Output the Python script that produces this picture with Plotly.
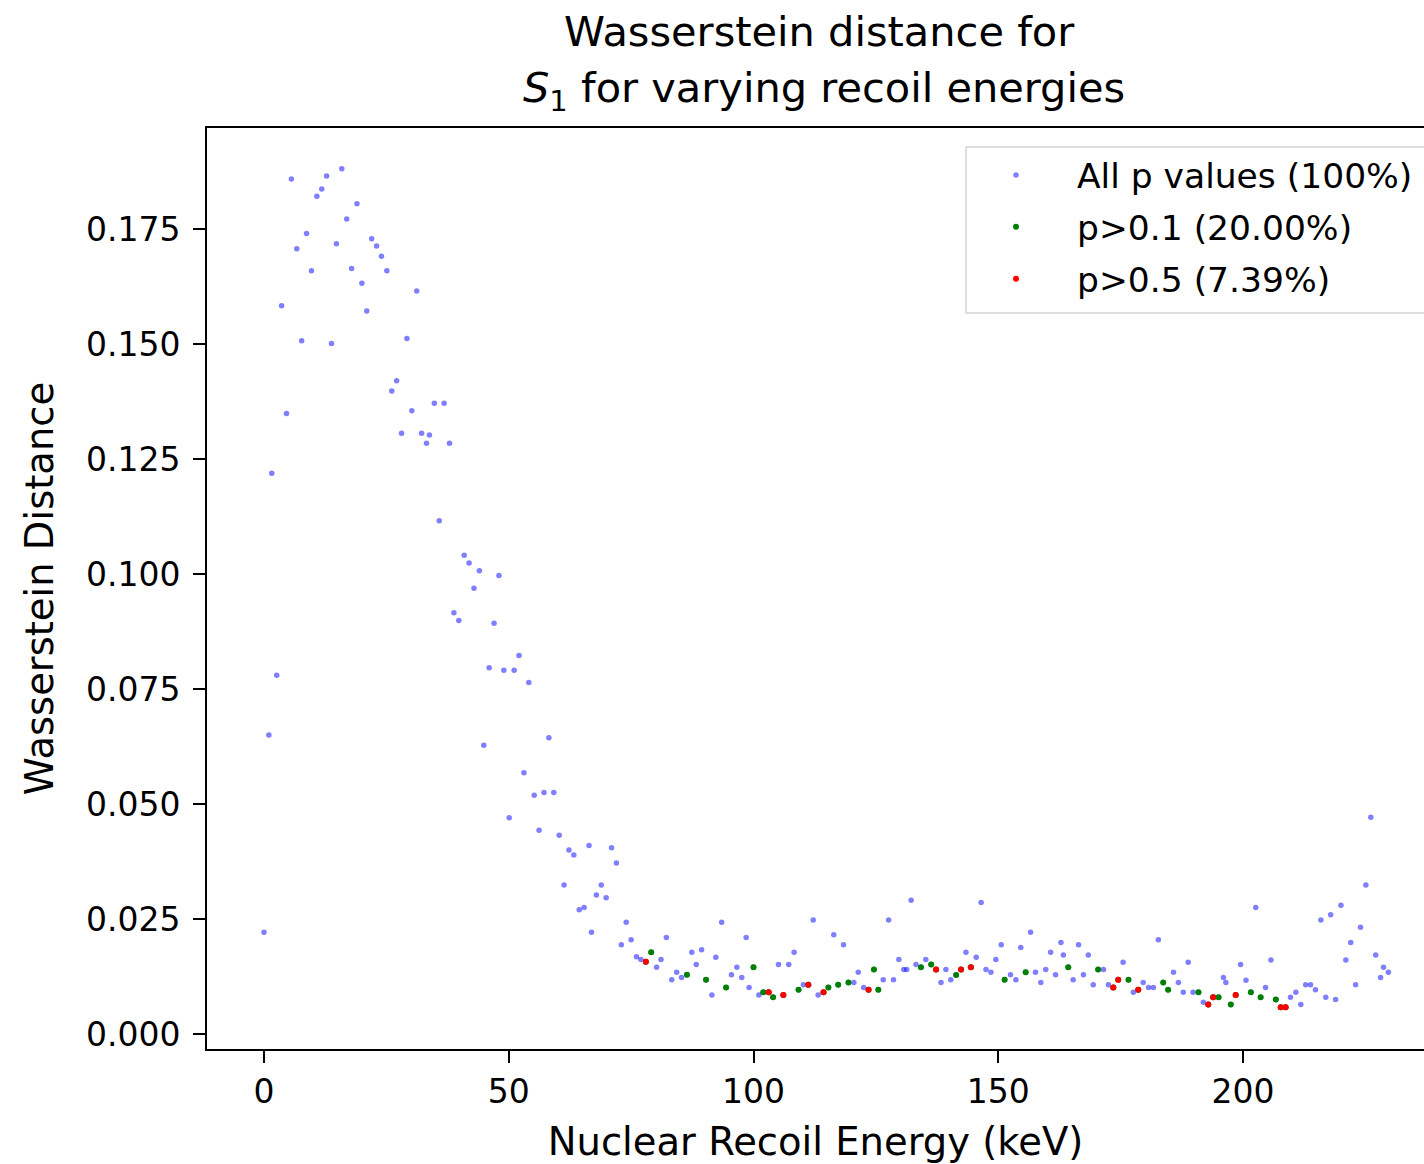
import plotly.graph_objects as go

# Nuclear recoil energy (keV) for every sample
energy = [
    0.0, 1.0, 1.6, 2.6, 3.6, 4.6, 5.6, 6.7, 7.7, 8.7, 9.7, 10.8, 11.8, 12.8, 13.8, 14.8,
    15.9, 16.9, 17.9, 19.0, 20.0, 21.0, 22.0, 23.0, 24.0, 25.1, 26.1, 27.1, 28.1, 29.2,
    30.2, 31.2, 32.2, 33.2, 33.8, 34.8, 35.8, 36.8, 37.9, 38.8, 39.8, 40.9, 41.9, 42.9,
    44.0, 44.9, 46.0, 47.0, 48.0, 49.0, 50.1, 51.1, 52.1, 53.1, 54.1, 55.2, 56.2, 57.2,
    58.2, 59.2, 60.3, 61.3, 62.3, 63.3, 64.4, 65.4, 66.4, 66.9, 67.9, 68.9, 69.9, 71.0,
    72.0, 73.0, 74.0, 75.0, 76.1, 77.0, 78.0, 79.1, 80.2, 81.1, 82.2, 83.3, 84.3, 85.3,
    86.4, 87.4, 88.3, 89.4, 90.3, 91.5, 92.3, 93.5, 94.4, 95.5, 96.6, 97.6, 98.5, 99.1,
    100.0, 101.1, 102.0, 103.1, 104.0, 105.1, 106.1, 107.2, 108.3, 109.2, 110.2, 111.2,
    112.2, 113.2, 114.3, 115.3, 116.4, 117.3, 118.4, 119.4, 120.5, 121.4, 122.5, 123.5,
    124.6, 125.5, 126.5, 127.6, 128.6, 129.7, 130.7, 131.3, 132.2, 133.2, 134.2, 135.2,
    136.3, 137.3, 138.3, 139.3, 140.3, 141.4, 142.4, 143.4, 144.4, 145.5, 146.5, 147.5,
    148.5, 149.5, 150.6, 151.3, 152.5, 153.6, 154.6, 155.6, 156.6, 157.6, 158.7, 159.7,
    160.7, 161.7, 162.8, 163.3, 164.3, 165.3, 166.4, 167.4, 168.4, 169.4, 170.4, 171.5,
    172.5, 173.5, 174.5, 175.5, 176.6, 177.6, 178.6, 179.6, 180.7, 181.7, 182.7, 183.7,
    184.7, 185.8, 186.8, 187.8, 188.8, 189.8, 190.9, 191.9, 192.9, 193.9, 195.0, 196.0,
    196.5, 197.5, 198.5, 199.5, 200.6, 201.6, 202.6, 203.6, 204.6, 205.7, 206.7, 207.7,
    208.7, 209.7, 210.8, 211.8, 212.8, 213.8, 214.8, 215.9, 216.9, 217.9, 218.9, 220.0,
    221.0, 222.0, 223.0, 224.0, 225.1, 226.1, 227.1, 228.1, 228.7, 229.7,
]

# Wasserstein distance for each sample
wasserstein = [
    0.0221, 0.0650, 0.1219, 0.0780, 0.1583, 0.1349, 0.1859, 0.1707, 0.1507, 0.1740, 0.1659,
    0.1821, 0.1837, 0.1865, 0.1501, 0.1718, 0.1881, 0.1772, 0.1664, 0.1805, 0.1632, 0.1572,
    0.1729, 0.1713, 0.1691, 0.1659, 0.1398, 0.1420, 0.1306, 0.1512, 0.1355, 0.1615, 0.1306,
    0.1284, 0.1302, 0.1371, 0.1116, 0.1371, 0.1284, 0.0916, 0.0899, 0.1041, 0.1024, 0.0969,
    0.1007, 0.0628, 0.0796, 0.0893, 0.0997, 0.0791, 0.0470, 0.0791, 0.0823, 0.0568, 0.0764,
    0.0519, 0.0443, 0.0525, 0.0644, 0.0525, 0.0432, 0.0324, 0.0400, 0.0389, 0.0270, 0.0275,
    0.0410, 0.0221, 0.0302, 0.0324, 0.0296, 0.0405, 0.0372, 0.0194, 0.0243, 0.0205, 0.0168,
    0.0162, 0.0157, 0.0178, 0.0145, 0.0162, 0.0210, 0.0118, 0.0134, 0.0123, 0.0129, 0.0178,
    0.0151, 0.0183, 0.0118, 0.0085, 0.0167, 0.0243, 0.0101, 0.0129, 0.0145, 0.0123, 0.0210,
    0.0101, 0.0145, 0.0085, 0.0091, 0.0091, 0.0080, 0.0151, 0.0085, 0.0151, 0.0178, 0.0096,
    0.0107, 0.0107, 0.0248, 0.0085, 0.0091, 0.0101, 0.0216, 0.0107, 0.0194, 0.0112, 0.0112,
    0.0134, 0.0101, 0.0096, 0.0140, 0.0096, 0.0118, 0.0248, 0.0118, 0.0162, 0.0140, 0.0140,
    0.0291, 0.0151, 0.0145, 0.0162, 0.0151, 0.0140, 0.0112, 0.0140, 0.0118, 0.0128, 0.0140,
    0.0178, 0.0145, 0.0167, 0.0286, 0.0140, 0.0134, 0.0162, 0.0194, 0.0118, 0.0129, 0.0118,
    0.0188, 0.0134, 0.0221, 0.0134, 0.0112, 0.0140, 0.0178, 0.0129, 0.0199, 0.0172, 0.0145,
    0.0118, 0.0194, 0.0129, 0.0172, 0.0107, 0.0140, 0.0140, 0.0107, 0.0101, 0.0118, 0.0156,
    0.0118, 0.0091, 0.0096, 0.0112, 0.0101, 0.0101, 0.0205, 0.0112, 0.0096, 0.0134, 0.0112,
    0.0091, 0.0156, 0.0091, 0.0091, 0.0069, 0.0064, 0.0080, 0.0080, 0.0123, 0.0112, 0.0064,
    0.0085, 0.0151, 0.0117, 0.0091, 0.0275, 0.0080, 0.0101, 0.0161, 0.0075, 0.0058, 0.0058,
    0.0080, 0.0091, 0.0064, 0.0107, 0.0107, 0.0096, 0.0248, 0.0080, 0.0259, 0.0075, 0.0280,
    0.0161, 0.0199, 0.0107, 0.0232, 0.0324, 0.0471, 0.0172, 0.0123, 0.0145, 0.0134,
]

# energies whose p value exceeded 0.1 but not 0.5
p_gt_01_energy = [
    79.1, 86.4, 90.3, 94.4, 100.0, 102.0, 104.0, 109.2, 115.3, 117.3, 119.4, 124.6, 125.5,
    134.2, 136.3, 141.4, 151.3, 155.6, 164.3, 170.4, 176.6, 183.7, 184.7, 190.9, 195.0,
    197.5, 201.6, 203.6, 206.7,
]
# energies whose p value exceeded 0.5
p_gt_05_energy = [
    78.0, 103.1, 106.1, 111.2, 114.3, 123.5, 137.3, 142.4, 144.4, 173.5, 174.5, 178.6,
    192.9, 193.9, 198.5, 207.7, 208.7,
]

legend_labels = ["All p values (100%)", "p>0.1 (20.00%)", "p>0.5 (7.39%)"]
x_ticks = [0, 50, 100, 150, 200]
y_ticks = [0.000, 0.025, 0.050, 0.075, 0.100, 0.125, 0.150, 0.175]

lookup = dict(zip(energy, wasserstein))
green_x = sorted(p_gt_01_energy + p_gt_05_energy)
green_y = [lookup[e] for e in green_x]
red_x = p_gt_05_energy
red_y = [lookup[e] for e in red_x]

FONT = "DejaVu Sans"
W, H = 1424, 1164
L, T, B = 207, 128, 115
PW, PH = W - L, H - T - B

def px_x(p):
    return (p - L) / PW

def px_y(p):
    return (H - B - p) / PH

fig = go.Figure()
fig.add_trace(go.Scatter(
    x=energy, y=wasserstein, mode="markers", name=legend_labels[0],
    legendgroup="a",
    marker=dict(size=5.5, color="rgba(0,0,255,0.5)", line=dict(width=0)),
))
fig.add_trace(go.Scatter(
    x=green_x, y=green_y, mode="markers", name=legend_labels[1],
    legendgroup="b",
    marker=dict(size=6, color="#008000", line=dict(width=0)),
))
fig.add_trace(go.Scatter(
    x=red_x, y=red_y, mode="markers", name=legend_labels[2],
    legendgroup="c",
    marker=dict(size=6, color="#ff0000", line=dict(width=0)),
))

axis_common = dict(
    showgrid=False, zeroline=False, showline=True, linecolor="black", linewidth=2,
    ticks="outside", ticklen=12, tickwidth=2, tickcolor="black",
    tickfont=dict(family=FONT, size=33, color="black"),
)

fig.update_layout(
    width=W, height=H,
    margin=dict(l=L, r=0, t=T, b=B, autoexpand=False),
    paper_bgcolor="white", plot_bgcolor="white",
    font=dict(family=FONT, color="black"),
    xaxis=dict(
        **axis_common, range=[-11.64, 236.97], tickvals=x_ticks,
        ticktext=[str(v) for v in x_ticks], mirror=True, ticklabelstandoff=0,
        title=dict(text="Nuclear Recoil Energy (keV)",
                   font=dict(family=FONT, size=38.5, color="black"), standoff=34),
    ),
    yaxis=dict(
        **axis_common, range=[-0.00326, 0.19696], tickvals=y_ticks,
        ticktext=[f"{v:.3f}" for v in y_ticks], mirror=False, ticklabelstandoff=6,
        title=dict(text="Wasserstein Distance",
                   font=dict(family=FONT, size=38.5, color="black"), standoff=20),
    ),
    showlegend=True,
    legend=dict(
        x=px_x(955), y=px_y(146), xanchor="left", yanchor="top",
        bgcolor="rgba(0,0,0,0)", borderwidth=0,
        font=dict(family=FONT, size=34.5, color="black"),
        itemwidth=112, traceorder="grouped", tracegroupgap=4,
    ),
    shapes=[dict(
        type="rect", xref="paper", yref="paper",
        x0=px_x(966), x1=px_x(1440), y0=px_y(313), y1=px_y(147),
        line=dict(color="#d4d4d4", width=1.5), fillcolor="white", layer="below",
    )],
    annotations=[
        dict(text="Wasserstein distance for", xref="paper", yref="paper",
             x=px_x(819), y=px_y(32), xanchor="center", yanchor="middle",
             showarrow=False, font=dict(family=FONT, size=41.5, color="black")),
        dict(text="<i>S</i><sub>1</sub> for varying recoil energies", xref="paper",
             yref="paper", x=px_x(824), y=px_y(91), xanchor="center", yanchor="middle",
             showarrow=False, font=dict(family=FONT, size=41.5, color="black")),
    ],
)

fig.write_html("out.html")
